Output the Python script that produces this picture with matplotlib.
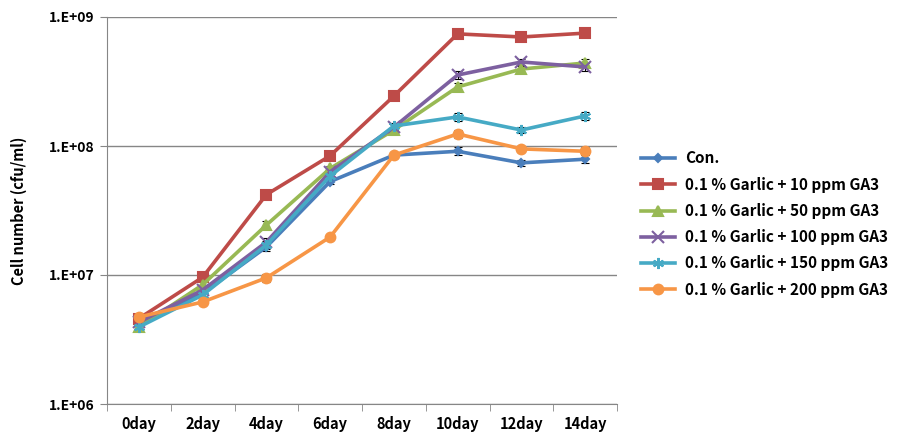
import numpy as np
import matplotlib.pyplot as plt

days = ["0day", "2day", "4day", "6day", "8day", "10day", "12day", "14day"]

con = [4.3e6, 7.2e6, 1.65e7, 5.3e7, 8.5e7, 9.1e7, 7.4e7, 7.9e7]
ga10 = [4.6e6, 9.6e6, 4.2e7, 8.4e7, 2.44e8, 7.4e8, 7.0e8, 7.5e8]
ga50 = [3.95e6, 8.4e6, 2.44e7, 6.7e7, 1.33e8, 2.87e8, 3.95e8, 4.4e8]
ga100 = [4.3e6, 7.65e6, 1.8e7, 6.3e7, 1.4e8, 3.55e8, 4.48e8, 4.1e8]
ga150 = [3.95e6, 7.0e6, 1.71e7, 5.85e7, 1.43e8, 1.68e8, 1.33e8, 1.71e8]
ga200 = [4.72e6, 6.18e6, 9.5e6, 1.97e7, 8.5e7, 1.24e8, 9.5e7, 9.1e7]

# relative error (fraction of value) for the small black bars
err_frac = [0.04, 0.05, 0.07, 0.05, 0.05, 0.07, 0.06, 0.07]

labels = ["Con.",
          "0.1 % Garlic + 10 ppm GA3",
          "0.1 % Garlic + 50 ppm GA3",
          "0.1 % Garlic + 100 ppm GA3",
          "0.1 % Garlic + 150 ppm GA3",
          "0.1 % Garlic + 200 ppm GA3"]
series = [con, ga10, ga50, ga100, ga150, ga200]
colors = ["#4A7EBB", "#BE4B48", "#98B954", "#7D60A0", "#46AAC5", "#F79646"]
markers = ["D", "s", "^", "x", (6, 2, 0), "o"]
msizes = [4.5, 7, 7, 8, 8, 7]

plt.rcParams['font.family'] = ['Noto Sans CJK KR', 'DejaVu Sans']

fig = plt.figure(figsize=(8.97, 4.43), dpi=100)
ax = fig.add_axes([107 / 897, 1 - 404 / 443, (617 - 107) / 897, (404 - 17) / 443])

x = np.arange(len(days))
for vals, lab, c, m, ms in zip(series, labels, colors, markers, msizes):
    vals = np.array(vals)
    ax.errorbar(x, vals, yerr=vals * np.array(err_frac), fmt="none", ecolor="black",
                elinewidth=0.8, capsize=3, capthick=0.8, zorder=2)
    ax.plot(x, vals, color=c, lw=2.6, marker=m, markersize=ms, markeredgecolor=c,
            markeredgewidth=1.5, label=lab, zorder=3)

ax.set_yscale("log")
ax.set_ylim(1e6, 1e9)
ax.set_yticks([1e6, 1e7, 1e8, 1e9])
ax.set_yticklabels(["1.E+06", "1.E+07", "1.E+08", "1.E+09"], fontweight="bold")
ax.yaxis.set_minor_locator(plt.NullLocator())
ax.grid(axis="y", color="#868686", lw=1)
ax.set_axisbelow(True)

ax.set_xlim(-0.5, len(days) - 0.5)
ax.set_xticks(x)
ax.set_xticklabels(days, fontweight="bold")
ax.set_xticks(np.arange(len(days) + 1) - 0.5, minor=True)
ax.tick_params(axis="x", which="major", length=0, pad=9, labelsize=10.5)
ax.tick_params(axis="x", which="minor", length=5, color="#868686")
ax.tick_params(axis="y", length=5, color="#868686", labelsize=10, pad=4)

for s in ["top", "right"]:
    ax.spines[s].set_visible(False)
for s in ["left", "bottom"]:
    ax.spines[s].set_color("#868686")

ax.set_ylabel("Cell number (cfu/ml)", fontsize=10.5, fontweight="bold", labelpad=16)

ax.legend(loc="center left", bbox_to_anchor=(1.02, 0.465), frameon=False,
          prop={"size": 11, "weight": "bold"}, handlelength=2.2,
          handletextpad=0.7, labelspacing=0.67)

fig.savefig("out.png", dpi=100)
